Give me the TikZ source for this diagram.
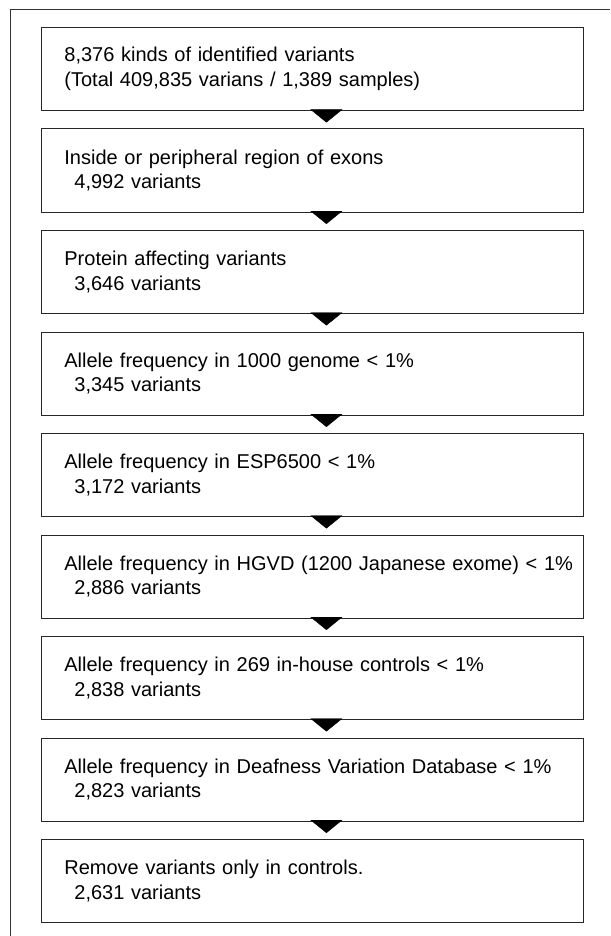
\documentclass[tikz,border=0pt]{standalone}
\usepackage{fontspec}
\setmainfont{Liberation Sans}
\usetikzlibrary{arrows.meta}
\tikzset{
  stage/.style={draw=black!85,line width=0.8pt,minimum width=542pt,minimum height=83pt,
    text width=536pt,inner xsep=3pt,align=left,anchor=north west,
    font=\fontsize{20}{24.5}\selectfont,execute at begin node={\leftskip=20pt\relax}},
  link/.style={-{Triangle[width=32pt,length=13pt]},line width=0.4pt,shorten >=6pt},
  frame/.style={draw=black!80,line width=0.8pt},
}
\newcommand{\cnt}[1]{\\\hspace*{10pt}#1}

\begin{document}
\begin{tikzpicture}[x=1pt,y=-1pt]
\useasboundingbox (0,0) rectangle (610,936);
\draw[frame] (610,9) -- (10,9) -- (10,936);
\node[stage] (v1) at (41,27) {8,376 kinds of identified variants\\(Total 409,835 varians / 1,389 samples)};
\node[stage] (v2) at (41,128.5) {Inside or peripheral region of exons\cnt{4,992 variants}};
\node[stage] (v3) at (41,230) {Protein affecting variants\cnt{3,646 variants}};
\node[stage] (v4) at (41,331.5) {Allele frequency in 1000 genome < 1\%\cnt{3,345 variants}};
\node[stage] (v5) at (41,433) {Allele frequency in ESP6500 < 1\%\cnt{3,172 variants}};
\node[stage] (v6) at (41,534.5) {Allele frequency in HGVD (1200 Japanese exome) < 1\%\cnt{2,886 variants}};
\node[stage] (v7) at (41,636) {Allele frequency in 269 in-house controls < 1\%\cnt{2,838 variants}};
\node[stage] (v8) at (41,737.5) {Allele frequency in Deafness Variation Database < 1\%\cnt{2,823 variants}};
\node[stage] (v9) at (41,839) {Remove variants only in controls.\cnt{2,631 variants}};
\foreach \a/\b in {v1/v2,v2/v3,v3/v4,v4/v5,v5/v6,v6/v7,v7/v8,v8/v9}
  \draw[link] ([xshift=14pt]\a.south) -- ([xshift=14pt]\b.north);
\end{tikzpicture}
\end{document}
